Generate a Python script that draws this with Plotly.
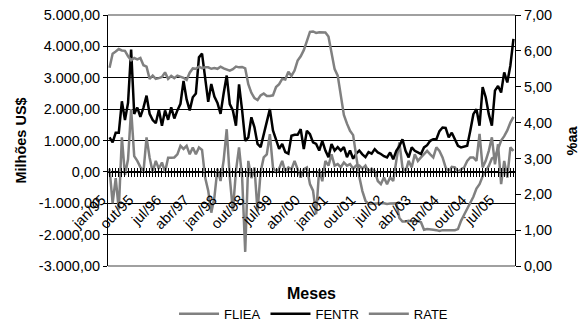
import plotly.graph_objects as go

# Monthly categories, jan/95 .. dez/05
month_names = ["jan", "fev", "mar", "abr", "mai", "jun", "jul", "ago", "set", "out", "nov", "dez"]
meses = [f"{m}/{y % 100:02d}" for y in range(1995, 2006) for m in month_names]

# FLIEA (US$ million, left axis)
fliea = [
    100, -1000, -200, -1200, 1100, -100, 400, 2000, 500, 350, 150, 0,
    1100, 450, 0, 350, 100, 300, 0, 450, 450, 460, 560, 830,
    730, 830, 560, 780, 560, 780, 700, -180, -600, -1300, -820, 100,
    -290, 360, 1360, -180, -1250, 30, 780, -180, -2550, 350, -200, 140,
    -1250, 0, 460, 560, 1200, 140, 0, 100, 350, 0, 140, 80,
    350, 100, -180, 80, 140, -390, -600, -1350, 80, -300, 350, 200,
    560, 200, 250, 150, 300, 200, 250, 100, 200, 200, 100, 200,
    0, 100, 30, -290, -390, -180, -390, -180, -290, 350, 940, 140,
    0, 350, 140, 560, 350, 460, 560, 670, 560, 460, 780, 670,
    460, 140, 0, 160, 140, 0, 80, 140, 350, 460, 460, 350,
    1210, 140, 350, 670, 1100, 240, 880, -390, 350, -180, 780, 670,
]

# FENTR (US$ million, left axis)
fentr = [
    1100, 940, 1250, 1250, 2250, 1650, 2200, 3900, 1850, 2050, 1750, 2050,
    2430, 1850, 1650, 1550, 1980, 1470, 1960, 1660, 2060, 1700, 1960, 2170,
    2900, 2310, 1960, 2380, 2500, 3650, 3770, 2900, 2230, 2800, 2400, 2200,
    1850, 2500, 3070, 2160, 1960, 1470, 2790, 1960, 990, 1100, 1740, 1420,
    890, 790, 1210, 1530, 2000, 1320, 990, 730, 890, 630, 580, 1150,
    1180, 1180, 1360, 730, 1310, 1200, 940, 890, 680, 990, 680, 470,
    890, 680, 790, 680, 790, 470, 680, 420, 580, 680, 560, 470,
    630, 580, 725, 620, 570, 500, 460, 620, 400, 670, 820, 1040,
    670, 460, 780, 670, 620, 570, 780, 850, 990, 1040, 1040, 1300,
    1415, 1400, 1100, 1250, 1040, 830, 780, 800, 830, 1310, 1840, 2000,
    1470, 2700, 2380, 1840, 1470, 2590, 2740, 2530, 3170, 2850, 3390, 4240,
]

# RATE (% a.a., right axis)
rate = [
    5.53, 5.92, 5.98, 6.05, 6.01, 6.00, 5.85, 5.74, 5.80, 5.76, 5.80, 5.60,
    5.56, 5.22, 5.31, 5.22, 5.24, 5.27, 5.40, 5.22, 5.30, 5.24, 5.31, 5.29,
    5.25, 5.19, 5.39, 5.51, 5.50, 5.56, 5.52, 5.54, 5.54, 5.50, 5.52, 5.50,
    5.56, 5.51, 5.49, 5.45, 5.49, 5.56, 5.54, 5.55, 5.51, 5.07, 4.83, 4.68,
    4.63, 4.76, 4.81, 4.74, 4.74, 4.76, 4.99, 5.07, 5.22, 5.20, 5.42, 5.30,
    5.45, 5.73, 5.85, 6.02, 6.27, 6.53, 6.54, 6.50, 6.52, 6.51, 6.51, 6.40,
    5.98, 5.49, 5.31, 4.80, 4.21, 3.97, 3.77, 3.65, 3.07, 2.49, 2.09, 1.82,
    1.73, 1.74, 1.73, 1.75, 1.75, 1.75, 1.73, 1.74, 1.75, 1.75, 1.34, 1.24,
    1.24, 1.26, 1.25, 1.26, 1.26, 1.22, 1.01, 1.03, 1.01, 1.01, 1.00, 0.98,
    1.00, 1.01, 1.00, 1.00, 1.00, 1.03, 1.26, 1.43, 1.61, 1.76, 1.93, 2.16,
    2.28, 2.50, 2.63, 2.79, 3.00, 3.04, 3.26, 3.50, 3.62, 3.78, 4.00, 4.16,
]

left_ticks = [-3000, -2000, -1000, 0, 1000, 2000, 3000, 4000, 5000]
right_ticks = [0, 1, 2, 3, 4, 5, 6, 7]


def br_number(v):
    s = f"{v:,.2f}"
    return s.replace(",", "X").replace(".", ",").replace("X", ".")


left_text = [br_number(v) for v in left_ticks]
right_text = [br_number(v) for v in right_ticks]
x_text = [m if i % 9 == 0 else "" for i, m in enumerate(meses)]

FONT = "Liberation Sans, Arial, sans-serif"
GRAY = "#808080"
TICK_SIZE = 14.5

fig = go.Figure()
fig.add_trace(go.Scatter(x=meses, y=fliea, name="FLIEA", mode="lines",
                         line=dict(color=GRAY, width=2.5)))
fig.add_trace(go.Scatter(x=meses, y=fentr, name="FENTR", mode="lines",
                         line=dict(color="#000000", width=2.5)))
fig.add_trace(go.Scatter(x=meses, y=rate, name="RATE", mode="lines",
                         xaxis="x2", yaxis="y2",
                         line=dict(color=GRAY, width=2.5)))

zero_pos = 3000 / 8000  # where value 0 sits on the left axis

fig.update_layout(
    width=584, height=324,
    margin=dict(l=108, r=69, t=15, b=58, autoexpand=False),
    paper_bgcolor="white", plot_bgcolor="white",
    font=dict(family=FONT, size=14, color="#000000"),
    showlegend=True,
    legend=dict(orientation="h", x=0.505, xanchor="center", y=-0.19, yanchor="middle",
                font=dict(size=13), itemwidth=40, bgcolor="rgba(0,0,0,0)"),
    xaxis=dict(type="category", categoryorder="array", categoryarray=meses,
               range=[-0.5, len(meses) - 0.5],
               anchor="free", position=zero_pos,
               showline=True, linecolor="#000000", linewidth=1,
               showgrid=False, zeroline=False,
               tickmode="array", tickvals=meses, ticktext=x_text,
               ticks="outside", ticklen=4, tickwidth=1, tickcolor="#000000",
               tickangle=-45, tickfont=dict(size=TICK_SIZE),
               ticklabelshift=-8, ticklabelstandoff=9),
    xaxis2=dict(type="category", matches="x", overlaying="x",
                anchor="free", position=zero_pos,
                showline=False, showgrid=False, zeroline=False,
                tickmode="array", tickvals=meses, showticklabels=False,
                ticks="inside", ticklen=4, tickwidth=1, tickcolor="#000000"),
    yaxis=dict(range=[-3000, 5000], tickmode="array", tickvals=left_ticks, ticktext=left_text,
               showgrid=True, gridcolor="#000000", gridwidth=1,
               showline=True, linecolor="#000000", linewidth=1,
               zeroline=False, ticks="outside", ticklen=4, tickcolor="#000000",
               tickfont=dict(size=TICK_SIZE)),
    yaxis2=dict(range=[0, 7], overlaying="y", side="right", anchor="x",
                tickmode="array", tickvals=right_ticks, ticktext=right_text,
                showgrid=False, showline=True, linecolor="#000000", linewidth=1,
                zeroline=False, ticks="outside", ticklen=5, tickcolor="#000000",
                tickfont=dict(size=TICK_SIZE)),
    shapes=[
        dict(type="line", xref="paper", yref="paper", x0=0, x1=1, y0=1, y1=1,
             line=dict(color=GRAY, width=1.5), layer="above"),
        dict(type="line", xref="paper", yref="paper", x0=0, x1=1, y0=0, y1=0,
             line=dict(color=GRAY, width=1.5), layer="above"),
    ],
    annotations=[
        dict(text="<b>Milhões US$</b>", xref="paper", yref="paper", x=-0.216, y=0.5,
             xanchor="center", yanchor="middle",
             textangle=-90, showarrow=False, font=dict(size=14.5)),
        dict(text="<b>%aa</b>", xref="paper", yref="paper", x=1.1376, y=0.5,
             xanchor="center", yanchor="middle",
             textangle=-90, showarrow=False, font=dict(size=14.5)),
        dict(text="<b>Meses</b>", xref="paper", yref="paper", x=0.5, y=-0.11,
             xanchor="center", yanchor="middle",
             showarrow=False, font=dict(size=16)),
    ],
)

fig.write_html("out.html")
